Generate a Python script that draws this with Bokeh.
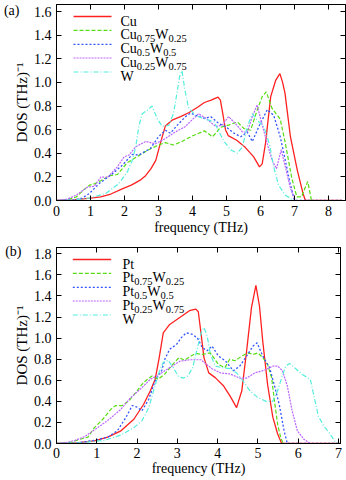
from bokeh.plotting import figure
from bokeh.models import Range1d, LinearAxis, FixedTicker, PrintfTickFormatter, Label
from bokeh.layouts import column
from bokeh.embed import file_html
from bokeh.resources import INLINE

# ---------------- data: panel (a) ----------------
a_xticks = [0, 1, 2, 3, 4, 5, 6, 7, 8]
a_yticks = [0.0, 0.2, 0.4, 0.6, 0.8, 1.0, 1.2, 1.4, 1.6]

cu_f = [0, 0.5, 1.0, 1.3, 1.6, 1.95, 2.2, 2.45, 2.62, 2.78, 2.92, 3.05, 3.2, 3.4, 3.65, 3.9, 4.15, 4.35, 4.55, 4.75,
        4.82, 4.9, 4.97, 5.05, 5.3, 5.55, 5.8, 5.97, 6.05, 6.15, 6.3, 6.45, 6.57, 6.65, 6.72, 6.88, 7.08, 7.25, 7.32, 8.4]
cu = [0, 0.005, 0.02, 0.03, 0.055, 0.1, 0.13, 0.17, 0.21, 0.27, 0.34, 0.48, 0.63, 0.68, 0.71, 0.745, 0.79, 0.83, 0.85, 0.875,
      0.85, 0.72, 0.6, 0.55, 0.51, 0.45, 0.37, 0.285, 0.31, 0.49, 0.88, 1.02, 1.075, 1.0, 0.91, 0.54, 0.26, 0.06, 0.0, 0.0]

cu75_f = [0, 0.3, 0.58, 0.8, 0.97, 1.1, 1.26, 1.55, 1.79, 2.08, 2.42, 2.71, 3.0, 3.2, 3.44, 3.69, 3.98, 4.35, 4.59, 4.83,
          5.08, 5.32, 5.51, 5.71, 5.9, 6.05, 6.17, 6.34, 6.58, 6.73, 6.92, 7.07, 7.21, 7.3, 7.39, 7.5, 8.4]
cu75 = [0, 0.005, 0.03, 0.09, 0.13, 0.14, 0.16, 0.21, 0.22, 0.32, 0.38, 0.43, 0.47, 0.49, 0.47, 0.5, 0.545, 0.59, 0.54, 0.62,
        0.64, 0.665, 0.61, 0.595, 0.765, 0.88, 0.92, 0.78, 0.69, 0.485, 0.19, 0.03, 0.03, 0.1, 0.16, 0.0, 0.0]

cu50_f = [0, 0.5, 0.75, 0.97, 1.26, 1.6, 1.94, 2.23, 2.42, 2.76, 3.0, 3.2, 3.35, 3.59, 3.83, 3.95, 4.1, 4.35, 4.54, 4.78,
          4.98, 5.22, 5.42, 5.61, 5.76, 5.95, 6.2, 6.39, 6.58, 6.73, 6.87, 7.0, 8.4]
cu50 = [0, 0.005, 0.02, 0.06, 0.145, 0.215, 0.3, 0.39, 0.385, 0.44, 0.54, 0.595, 0.57, 0.65, 0.72, 0.74, 0.72, 0.695, 0.71, 0.65,
        0.625, 0.57, 0.54, 0.58, 0.5, 0.625, 0.77, 0.72, 0.54, 0.34, 0.145, 0.0, 0.0]

cu25_f = [0, 0.3, 0.58, 0.92, 1.11, 1.31, 1.5, 1.79, 1.99, 2.13, 2.33, 2.62, 2.91, 3.2, 3.49, 3.78, 4.03, 4.18, 4.4, 4.69,
          4.88, 5.06, 5.27, 5.47, 5.61, 5.76, 5.9, 6.05, 6.2, 6.34, 6.47, 6.61, 6.73, 6.87, 6.99, 7.05, 8.4]
cu25 = [0, 0.01, 0.045, 0.115, 0.12, 0.2, 0.195, 0.285, 0.37, 0.385, 0.455, 0.5, 0.48, 0.525, 0.58, 0.625, 0.695, 0.735, 0.695, 0.625,
        0.64, 0.71, 0.65, 0.58, 0.58, 0.71, 0.81, 0.64, 0.48, 0.34, 0.27, 0.43, 0.285, 0.115, 0.02, 0.0, 0.0]

wa_f = [0, 0.5, 0.97, 1.45, 1.84, 2.08, 2.23, 2.33, 2.42, 2.52, 2.67, 2.81, 2.96, 3.1, 3.3, 3.44, 3.54, 3.62, 3.69, 3.78,
        3.88, 4.08, 4.32, 4.64, 4.78, 4.93, 5.12, 5.32, 5.47, 5.61, 5.76, 5.9, 6.1, 6.26, 6.39, 6.53, 6.73, 6.92, 7.0, 8.4]
wa = [0, 0.005, 0.02, 0.06, 0.145, 0.24, 0.34, 0.455, 0.625, 0.735, 0.765, 0.8, 0.695, 0.63, 0.635, 0.735, 0.905, 1.05, 1.1, 0.93,
      0.79, 0.72, 0.695, 0.665, 0.58, 0.5, 0.43, 0.4, 0.455, 0.625, 0.735, 0.68, 0.625, 0.48, 0.285, 0.13, 0.045, 0.01, 0.0, 0.0]

# ---------------- data: panel (b) ----------------
b_xticks = [0, 1, 2, 3, 4, 5, 6, 7]
b_yticks = [0.0, 0.2, 0.4, 0.6, 0.8, 1.0, 1.2, 1.4, 1.6, 1.8]

pt_f = [0, 0.5, 0.94, 1.27, 1.6, 1.92, 2.16, 2.33, 2.45, 2.55, 2.65, 2.81, 3.06, 3.3, 3.46, 3.52, 3.58, 3.66, 3.78, 3.94,
        4.15, 4.31, 4.47, 4.6, 4.72, 4.84, 4.95, 5.04, 5.12, 5.24, 5.37, 5.49, 5.59, 7.05]
pt = [0, 0.005, 0.025, 0.06, 0.12, 0.23, 0.37, 0.5, 0.61, 0.815, 1.05, 1.13, 1.195, 1.26, 1.275, 1.25, 1.07, 0.815, 0.67, 0.625,
      0.545, 0.45, 0.34, 0.5, 0.88, 1.29, 1.5, 1.3, 0.97, 0.56, 0.25, 0.09, 0.0, 0.0]

pt75_f = [0, 0.35, 0.58, 0.78, 0.94, 1.15, 1.35, 1.47, 1.63, 1.8, 2.0, 2.16, 2.37, 2.53, 2.69, 2.85, 3.04, 3.18, 3.34, 3.46,
          3.62, 3.82, 4.02, 4.18, 4.3, 4.43, 4.6, 4.76, 4.88, 5.0, 5.12, 5.24, 5.34, 5.41, 5.49, 5.57, 5.63, 7.05]
pt75 = [0, 0.01, 0.04, 0.06, 0.15, 0.23, 0.325, 0.36, 0.36, 0.405, 0.5, 0.58, 0.64, 0.61, 0.66, 0.735, 0.815, 0.79, 0.83, 0.855,
        0.845, 0.86, 0.75, 0.72, 0.8, 0.785, 0.83, 0.86, 0.845, 0.86, 0.815, 0.75, 0.625, 0.405, 0.18, 0.05, 0.0, 0.0]

pt50_f = [0, 0.5, 0.94, 1.27, 1.51, 1.72, 1.88, 2.0, 2.12, 2.29, 2.45, 2.61, 2.69, 2.81, 2.98, 3.1, 3.22, 3.38, 3.5, 3.62,
          3.74, 3.86, 4.02, 4.19, 4.39, 4.55, 4.72, 4.88, 4.98, 5.12, 5.29, 5.41, 5.53, 5.65, 5.73, 7.05]
pt50 = [0, 0.005, 0.03, 0.06, 0.12, 0.245, 0.36, 0.345, 0.31, 0.42, 0.595, 0.69, 0.8, 0.895, 0.94, 1.005, 1.05, 1.035, 1.0, 0.91,
        0.88, 0.925, 0.83, 0.785, 0.69, 0.735, 0.83, 0.925, 0.955, 0.83, 0.72, 0.55, 0.37, 0.12, 0.0, 0.0]

pt25_f = [0, 0.25, 0.46, 0.7, 1.02, 1.31, 1.6, 1.84, 2.08, 2.33, 2.57, 2.81, 3.06, 3.3, 3.59, 3.66, 3.86, 4.07, 4.31, 4.55,
          4.72, 4.92, 5.16, 5.37, 5.49, 5.61, 5.73, 5.85, 5.98, 6.14, 6.3, 7.05]
pt25 = [0, 0.01, 0.03, 0.065, 0.15, 0.23, 0.325, 0.435, 0.515, 0.61, 0.66, 0.72, 0.78, 0.795, 0.795, 0.77, 0.71, 0.67, 0.66, 0.62,
        0.62, 0.67, 0.695, 0.735, 0.735, 0.69, 0.545, 0.31, 0.12, 0.04, 0.0, 0.0]

wb_f = [0, 0.5, 1.19, 1.6, 1.92, 2.12, 2.29, 2.41, 2.53, 2.65, 2.77, 2.9, 3.02, 3.14, 3.26, 3.38, 3.5, 3.6, 3.66, 3.74,
        3.82, 3.94, 4.11, 4.31, 4.47, 4.63, 4.8, 5.0, 5.2, 5.37, 5.49, 5.59, 5.69, 5.79, 5.94, 6.1, 6.3, 6.42, 6.5, 6.63,
        6.79, 6.91, 6.99, 7.05]
wb = [0, 0.005, 0.03, 0.08, 0.15, 0.215, 0.34, 0.5, 0.66, 0.77, 0.79, 0.72, 0.64, 0.62, 0.64, 0.72, 0.91, 1.06, 1.1, 1.02,
      0.85, 0.735, 0.72, 0.71, 0.67, 0.595, 0.5, 0.435, 0.4, 0.4, 0.5, 0.625, 0.735, 0.76, 0.71, 0.655, 0.61, 0.4, 0.26, 0.17,
      0.09, 0.02, 0.0, 0.0]

# legend labels: list of (text, is_subscript)
a_labels = [[("Cu", False)],
            [("Cu", False), ("0.75", True), ("W", False), ("0.25", True)],
            [("Cu", False), ("0.5", True), ("W", False), ("0.5", True)],
            [("Cu", False), ("0.25", True), ("W", False), ("0.75", True)],
            [("W", False)]]
b_labels = [[("Pt", False)],
            [("Pt", False), ("0.75", True), ("W", False), ("0.25", True)],
            [("Pt", False), ("0.5", True), ("W", False), ("0.5", True)],
            [("Pt", False), ("0.25", True), ("W", False), ("0.75", True)],
            [("W", False)]]

Y_LABEL = "DOS (THz)\u207b\u00b9"
X_LABEL = "frequency (THz)"

# ---------------- styles ----------------
FONT = "Liberation Serif"
COLORS = ["#ff2020", "#55dd11", "#3355ff", "#bb66ff", "#55eedd"]
DASHES = ["solid", "4 2", "2 2", "2 1", "5 2 1 2"]
WIDTHS = [1.3, 1.2, 1.3, 1.2, 1.2]
FH = 196

CW = {'D': .722, 'O': .722, 'S': .556, ' ': .25, '(': .333, ')': .333, 'T': .611, 'H': .722, 'z': .444,
      '-': .333, '.': .25, 'C': .667, 'u': .5, 'W': .944, 'P': .556, 't': .278, 'a': .444, 'b': .5}


def tw(s, size):
    return sum(CW.get(c, 0.5) for c in s) * size


def make_panel(tag, xmax, ymax, xticks, yticks, series, labels, fw, bl, br, bt, bb,
               line_px, text_px, tag_px, tag_standoff, tick_standoff, lab_standoff):
    def X(px):
        return px * xmax / fw

    def Y(py):
        return ymax - py * ymax / FH

    p = figure(frame_width=fw, frame_height=FH, x_range=Range1d(0, xmax), y_range=Range1d(0, ymax),
               output_backend="svg", toolbar_location=None,
               min_border_left=bl, min_border_right=br, min_border_top=bt, min_border_bottom=bb,
               background_fill_color="white", border_fill_color="white", outline_line_color="black")
    p.grid.visible = False

    top = LinearAxis()
    right = LinearAxis()
    p.add_layout(top, "above")
    p.add_layout(right, "right")
    for ax, ticks, show in [(p.below[0], xticks, True), (top, xticks, False),
                            (p.left[0], yticks, True), (right, yticks, False)]:
        ax.ticker = FixedTicker(ticks=ticks)
        ax.axis_line_color = "black"
        ax.major_tick_line_color = "black"
        ax.major_tick_in = 5
        ax.major_tick_out = 0
        ax.minor_tick_line_color = None
        ax.major_label_text_font = FONT
        ax.major_label_text_color = "black"
        ax.major_label_text_font_size = "14px"
        ax.major_label_standoff = tick_standoff
        if not show:
            ax.major_label_text_font_size = "0px"
            ax.major_label_text_color = None
            ax.major_label_standoff = 0
            ax.axis_label_standoff = 0
    left = p.left[0]
    left.major_label_standoff = 5
    left.formatter = PrintfTickFormatter(format="%.1f")
    right.formatter = PrintfTickFormatter(format="%.1f")
    left.axis_label = Y_LABEL
    left.axis_label_text_font = FONT
    left.axis_label_text_font_style = "normal"
    left.axis_label_text_font_size = "15px"
    left.axis_label_text_color = "black"
    left.axis_label_standoff = 1

    bottom = p.below[0]
    bottom.axis_label = X_LABEL
    bottom.axis_label_text_font = FONT
    bottom.axis_label_text_font_style = "normal"
    bottom.axis_label_text_font_size = "14px"
    bottom.axis_label_text_color = "black"
    bottom.axis_label_standoff = lab_standoff

    # outer left "axis" that only carries the panel tag
    tag_y = Y(tag_px)
    tag_axis = LinearAxis(ticker=FixedTicker(ticks=[tag_y]), major_label_overrides={tag_y: tag},
                          axis_line_color=None, major_tick_line_color=None, minor_tick_line_color=None,
                          major_tick_in=0, major_tick_out=0, minor_tick_in=0, minor_tick_out=0,
                          axis_label_standoff=0,
                          major_label_standoff=tag_standoff, major_label_text_font=FONT,
                          major_label_text_font_size="14px", major_label_text_color="black")
    p.add_layout(tag_axis, "left")

    for (f, d), c, dash, w in zip(series, COLORS, DASHES, WIDTHS):
        p.line(f, d, line_color=c, line_dash=dash, line_width=w)

    # legend
    rows = [12, 25.8, 39.8, 53.5, 67.5]
    for lab, row, c, dash, w in zip(labels, rows, COLORS, DASHES, WIDTHS):
        p.line([X(line_px[0]), X(line_px[1])], [Y(row), Y(row)], line_color=c, line_dash=dash, line_width=w)
        cur = text_px
        for seg, sub in lab:
            size = 10.5 if sub else 14
            yb = row + 4.6 + (3.6 if sub else 0)
            p.add_layout(Label(x=X(cur), y=Y(yb), text=seg, text_font=FONT, text_font_size=f"{size}px",
                               text_color="black", text_align="left", text_baseline="alphabetic"))
            cur += tw(seg, size)
    return p


p1 = make_panel("(a)", 8.5, 1.66, a_xticks, a_yticks,
                [(cu_f, cu), (cu75_f, cu75), (cu50_f, cu50), (cu25_f, cu25), (wa_f, wa)], a_labels,
                289, 54, 1, 4, 43, (17, 55), 64, 6, -9, 5, 1)
p2 = make_panel("(b)", 7.05, 1.86, b_xticks, b_yticks,
                [(pt_f, pt), (pt75_f, pt75), (pt50_f, pt50), (pt25_f, pt25), (wb_f, wb)], b_labels,
                284, 52, 4, 4, 37, (16.3, 54.7), 66, 3, -11, 4, 0)

layout = column(p1, p2)
open("out.html", "w").write(file_html(layout, INLINE))
